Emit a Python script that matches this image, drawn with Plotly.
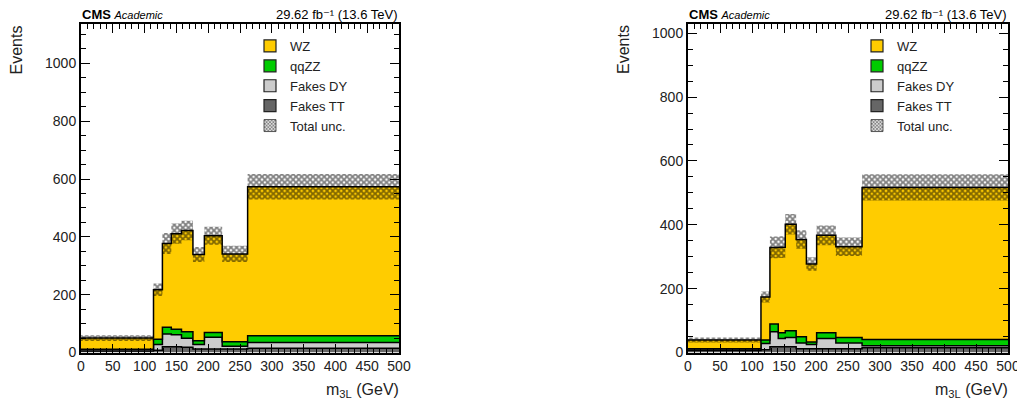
import plotly.graph_objects as go

# ---------------- data ----------------
edges_L = [0, 114, 128, 142, 158, 176, 194, 222, 262, 500]
fakes_tt_L = [5, 8, 20, 20, 18, 12, 12, 12, 15]
fakes_dy_L = [5, 20, 44, 41, 31, 16, 41, 10, 20]
qqzz_L = [1, 18, 23, 19, 23, 13, 16, 15, 23]
wz_L = [39, 171, 290, 331, 350, 298, 335, 304, 515]
unc_L = [10, 22, 36, 35, 34, 26, 31, 28, 44]

edges_R = [0, 114, 128, 141, 152, 169, 185, 201, 231, 272, 500]
fakes_tt_R = [6, 9, 18, 18, 18, 12, 12, 12, 12, 15]
fakes_dy_R = [5, 19, 47, 26, 29, 18, 13, 32, 18, 6]
qqzz_R = [1, 11, 24, 18, 21, 19, 8, 18, 17, 20]
wz_R = [27, 135, 240, 268, 334, 305, 244, 305, 284, 476]
unc_R = [8, 17, 34, 34, 32, 29, 21, 31, 29, 41]

names = ["Fakes TT", "Fakes DY", "qqZZ", "WZ"]
colors = ["#666666", "#cccccc", "#00cc00", "#ffcc00"]
legend_order = ["WZ", "qqZZ", "Fakes DY", "Fakes TT"]

# page has an 8px body margin: figure is placed at (8, 8) in the window
OFF = 8
W, H = 1017, 400
FONT = "Liberation Sans, Arial, Helvetica, DejaVu Sans, sans-serif"


def px_x(p):
    return (p - OFF) / W


def px_y(p):
    return 1 - (p - OFF) / H


fig = go.Figure()


def add_panel(edges, comps, unc, xa, ya, legend):
    cum = [0.0] * len(comps[0])
    for name, col, vals in zip(names, colors, comps):
        cum = [c + v for c, v in zip(cum, vals)]
        fig.add_trace(go.Scatter(
            x=edges, y=cum + [cum[-1]], mode="lines", line_shape="hv",
            line=dict(color="black", width=1.5),
            fill="tozeroy" if name == "Fakes TT" else "tonexty",
            fillcolor=col, showlegend=False, hoverinfo="skip",
            xaxis=xa, yaxis=ya, name=name))
    total = cum
    lo = [t - u for t, u in zip(total, unc)]
    hi = [t + u for t, u in zip(total, unc)]
    fig.add_trace(go.Scatter(
        x=edges, y=lo + [lo[-1]], mode="lines", line_shape="hv",
        line=dict(width=0, color="rgba(0,0,0,0)"), showlegend=False,
        hoverinfo="skip", xaxis=xa, yaxis=ya))
    fig.add_trace(go.Scatter(
        x=edges, y=hi + [hi[-1]], mode="lines", line_shape="hv",
        line=dict(width=0, color="rgba(0,0,0,0)"), fill="tonexty",
        fillcolor="rgba(0,0,0,0)",
        fillpattern=dict(shape="x", fgcolor="black", bgcolor="rgba(0,0,0,0)",
                         size=4, solidity=0.7),
        showlegend=False, hoverinfo="skip", xaxis=xa, yaxis=ya))
    # legend entries
    for lname in legend_order:
        col = colors[names.index(lname)]
        fig.add_trace(go.Bar(
            x=[None], y=[None], name=lname, xaxis=xa, yaxis=ya,
            marker=dict(color=col, line=dict(color="#222222", width=1.2)),
            legend=legend, showlegend=True))
    fig.add_trace(go.Bar(
        x=[None], y=[None], name="Total unc.", xaxis=xa, yaxis=ya,
        marker=dict(color="white", line=dict(color="#333333", width=0.8),
                    pattern=dict(shape="x", fgcolor="black", bgcolor="white",
                                 size=3, solidity=0.6)),
        legend=legend, showlegend=True))


add_panel(edges_L, [fakes_tt_L, fakes_dy_L, qqzz_L, wz_L], unc_L, "x", "y", "legend")
add_panel(edges_R, [fakes_tt_R, fakes_dy_R, qqzz_R, wz_R], unc_R, "x2", "y2", "legend2")

axis_common = dict(
    showline=True, linecolor="black", linewidth=2, mirror="ticks",
    ticks="inside", ticklen=9, tickwidth=1, tickcolor="black",
    showgrid=False, zeroline=False, automargin=False,
    tickfont=dict(family=FONT, size=14, color="#222222"),
    layer="above traces",
)

yb, yt = px_y(352.5), px_y(24)
fig.update_layout(
    width=W, height=H, margin=dict(l=0, r=0, t=0, b=0, autoexpand=False),
    plot_bgcolor="white", paper_bgcolor="white",
    font=dict(family=FONT, color="black"),
    barmode="overlay",
    xaxis=dict(domain=[px_x(81), px_x(399)], range=[0, 500], dtick=50,
               minor=dict(ticks="inside", ticklen=5, dtick=10, tickcolor="black"),
               anchor="y", **axis_common),
    yaxis=dict(domain=[yb, yt], range=[0, 1136], dtick=200,
               minor=dict(ticks="inside", ticklen=5, dtick=50, tickcolor="black"),
               anchor="x", **axis_common),
    xaxis2=dict(domain=[px_x(688), px_x(1008)], range=[0, 500], dtick=50,
                minor=dict(ticks="inside", ticklen=5, dtick=10, tickcolor="black"),
                anchor="y2", **axis_common),
    yaxis2=dict(domain=[yb, yt], range=[0, 1029], dtick=200,
                minor=dict(ticks="inside", ticklen=5, dtick=50, tickcolor="black"),
                anchor="x2", **axis_common),
    legend=dict(x=px_x(250), y=px_y(31), xanchor="left", yanchor="top",
                bgcolor="rgba(0,0,0,0)", font=dict(family=FONT, size=13, color="#222222"),
                traceorder="normal", itemclick=False),
    legend2=dict(x=px_x(857), y=px_y(31), xanchor="left", yanchor="top",
                 bgcolor="rgba(0,0,0,0)", font=dict(family=FONT, size=13, color="#222222"),
                 traceorder="normal", itemclick=False),
)

annots = []
for left, right, ytitle_x in [(81, 399, 16.5), (688, 1008, 624)]:
    annots.append(dict(
        x=px_x(left), y=px_y(23), xref="paper", yref="paper",
        xanchor="left", yanchor="bottom", showarrow=False, borderpad=0,
        text="<b>CMS</b> <i><span style='font-size:11px'>Academic</span></i>",
        font=dict(family=FONT, size=13, color="black")))
    annots.append(dict(
        x=px_x(right), y=px_y(23), xref="paper", yref="paper",
        xanchor="right", yanchor="bottom", showarrow=False, borderpad=0,
        text="29.62 fb\u207b\u00b9 (13.6 TeV)",
        font=dict(family=FONT, size=13, color="black")))
    annots.append(dict(
        x=px_x(ytitle_x), y=px_y(50), xref="paper", yref="paper",
        xanchor="center", yanchor="middle", showarrow=False, textangle=-90,
        borderpad=0,
        text="Events", font=dict(family=FONT, size=16, color="#222222")))
    annots.append(dict(
        x=px_x(right + 2), y=px_y(390), xref="paper", yref="paper",
        xanchor="right", yanchor="middle", showarrow=False,
        text="m<sub>3L</sub> (GeV)", font=dict(family=FONT, size=16, color="#222222")))
fig.update_layout(annotations=annots)

fig.write_html("out.html")
